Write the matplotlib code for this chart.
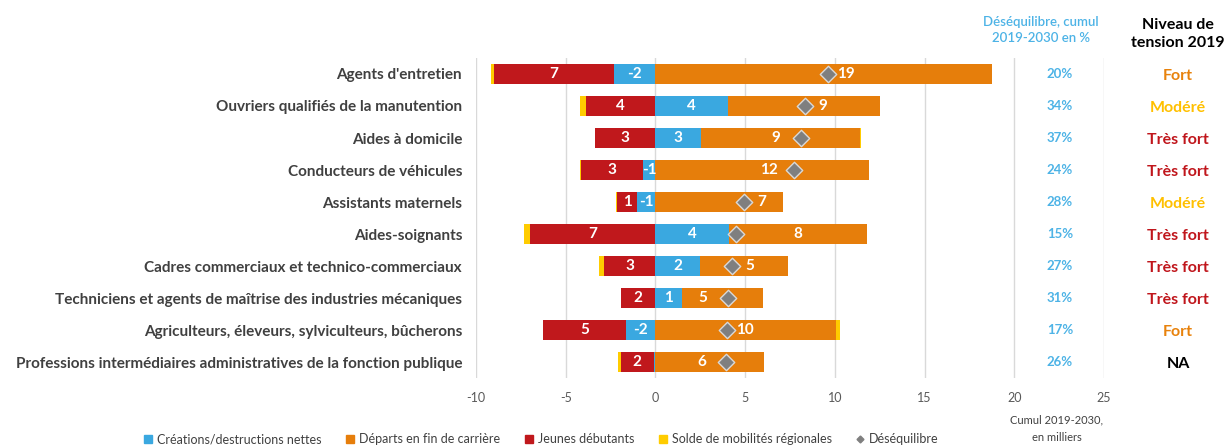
import numpy as np
import matplotlib
matplotlib.use("Agg")
import matplotlib.pyplot as plt
import matplotlib.transforms as mtransforms
from matplotlib.lines import Line2D

plt.rcParams['font.family'] = ['Lato', 'DejaVu Sans']

# metiers, du haut vers le bas
metiers = [
    "Agents d'entretien",
    "Ouvriers qualifiés de la manutention",
    "Aides à domicile",
    "Conducteurs de véhicules",
    "Assistants maternels",
    "Aides-soignants",
    "Cadres commerciaux et technico-commerciaux",
    "Techniciens et agents de maîtrise des industries mécaniques",
    "Agriculteurs, éleveurs, sylviculteurs, bûcherons",
    "Professions intermédiaires administratives de la fonction publique",
]
# cumul 2019-2030, en milliers
creations = [-2.32, 4.03, 2.55, -0.69, -1.02, 4.08, 2.47, 1.47, -1.63, -0.09]
departs = [18.76, 8.5, 8.84, 11.9, 7.13, 7.71, 4.9, 4.5, 10.07, 6.07]
jeunes = [6.65, 3.88, 3.38, 3.45, 1.1, 7.0, 2.88, 1.91, 4.66, 1.84]
mobilites = [-0.17, -0.30, 0.08, -0.05, -0.07, -0.30, -0.24, -0.03, 0.22, -0.18]
desequilibre_pct = [20, 34, 37, 24, 28, 15, 27, 31, 17, 26]
tension = ["Fort", "Modéré", "Très fort", "Très fort", "Modéré",
           "Très fort", "Très fort", "Très fort", "Fort", "NA"]
xticks = [-10, -5, 0, 5, 10, 15, 20, 25]

# cote du label orange par rapport au losange (r / l / c)
label_side = ['r', 'r', 'l', 'l', 'r', 'c', 'r', 'l', 'r', 'l']

c_blue = '#3AA8E0'
c_orange = '#E67E0B'
c_red = '#C0181C'
c_yellow = '#FFCC00'
c_diam = '#7F7F7F'
c_txt = '#404040'
tension_col = {"Fort": '#E8820C', "Modéré": '#FFC000', "Très fort": '#C0161C', "NA": '#000000'}

def half_up(v):
    return int(np.sign(v) * np.floor(abs(v) + 0.5))

n = len(metiers)
y = np.arange(n)
creations = np.array(creations)
departs = np.array(departs)
jeunes_neg = -np.array(jeunes)
mobilites = np.array(mobilites)
deseq = creations + departs + jeunes_neg + mobilites

fig = plt.figure(figsize=(12.27, 4.48), dpi=100)
ax = fig.add_axes([476 / 1227, 1 - 378 / 448, (1104 - 476) / 1227, 320 / 448])

pos_base = np.zeros(n)
neg_base = np.zeros(n)
segs = {}
h = 0.62
for name, vals, col in [("blue", creations, c_blue), ("orange", departs, c_orange),
                        ("red", jeunes_neg, c_red), ("yellow", mobilites, c_yellow)]:
    left = np.where(vals >= 0, pos_base, neg_base)
    ax.barh(y, vals, left=left, height=h, color=col, edgecolor='none', zorder=2)
    segs[name] = (left, vals)
    pos_base = pos_base + np.where(vals >= 0, vals, 0)
    neg_base = neg_base + np.where(vals < 0, vals, 0)

ax.scatter(deseq, y, marker='D', s=70, color=c_diam, edgecolors='#D9D9D9',
           linewidths=1, zorder=4)

lab_kw = dict(color='white', fontweight='bold', fontsize=11, va='center', ha='center', zorder=5)
for i in range(n):
    left, vals = segs["red"]
    ax.text(left[i] + vals[i] / 2, y[i], str(half_up(-vals[i])), **lab_kw)
    left, vals = segs["blue"]
    if abs(vals[i]) >= 0.5:
        ax.text(left[i] + vals[i] / 2, y[i], str(half_up(vals[i])), **lab_kw)
    left, vals = segs["orange"]
    if label_side[i] == 'r':
        xl = deseq[i] + 1.0
    elif label_side[i] == 'l':
        xl = deseq[i] - 1.4
    else:
        xl = left[i] + vals[i] / 2
    ax.text(xl, y[i], str(half_up(vals[i])), **lab_kw)

ax.set_xlim(-10, 25)
ax.set_ylim(n - 0.5, -0.5)
ax.set_xticks(xticks)
ax.set_xticklabels([str(t) for t in xticks], color='#595959', fontsize=9)
ax.tick_params(axis='x', length=0, pad=10)
ax.set_yticks(y)
ax.set_yticklabels(metiers, color=c_txt, fontweight='bold', fontsize=11)
ax.tick_params(axis='y', length=0, pad=10)
ax.grid(axis='x', color='#D9D9D9', linewidth=1, zorder=0)
ax.set_axisbelow(True)
for s in ax.spines.values():
    s.set_visible(False)

# colonnes de droite
trans = mtransforms.blended_transform_factory(fig.transFigure, ax.transData)
for i in range(n):
    ax.text(1060 / 1227, y[i], f"{desequilibre_pct[i]}%", transform=trans, ha='center',
            va='center', color='#4DB3E6', fontweight='bold', fontsize=9.5)
    ax.text(1178 / 1227, y[i] + 0.05, tension[i], transform=trans, ha='center', va='center',
            color=tension_col[tension[i]], fontweight='bold', fontsize=11.5)

fig.text(1041 / 1227, 1 - 30 / 448, "Déséquilibre, cumul\n2019-2030 en %", ha='center',
         va='center', color='#4DB3E6', fontsize=9.5, fontweight='semibold', linespacing=1.5)
fig.text(1178 / 1227, 1 - 34 / 448, "Niveau de\ntension 2019", ha='center', va='center',
         color='black', fontweight='bold', fontsize=11.5, linespacing=1.4)
fig.text(1057 / 1227, 1 - 429 / 448, "Cumul 2019-2030,\nen milliers", ha='center',
         va='center', color=c_txt, fontsize=8, linespacing=1.7)

handles = [
    Line2D([], [], marker='s', linestyle='none', color=c_blue, markersize=6),
    Line2D([], [], marker='s', linestyle='none', color=c_orange, markersize=6),
    Line2D([], [], marker='s', linestyle='none', color=c_red, markersize=6),
    Line2D([], [], marker='s', linestyle='none', color=c_yellow, markersize=6),
    Line2D([], [], marker='D', linestyle='none', color=c_diam, markersize=3.5),
]
labels = ["Créations/destructions nettes", "Départs en fin de carrière", "Jeunes débutants",
          "Solde de mobilités régionales", "Déséquilibre"]
fig.legend(handles, labels, loc='center', bbox_to_anchor=(541 / 1227, 1 - 439 / 448), ncol=5,
           frameon=False, fontsize=9, handlelength=0.8, handletextpad=0.3, columnspacing=1.9,
           labelcolor=c_txt)

fig.savefig("out.png", dpi=100)
